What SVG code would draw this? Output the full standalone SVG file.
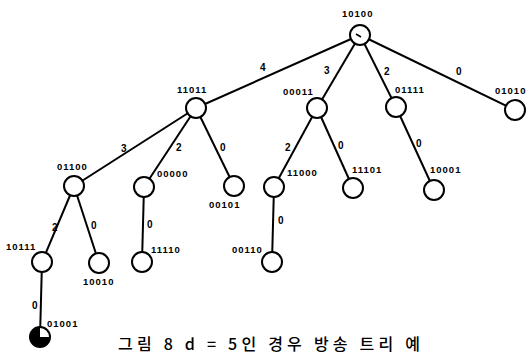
<svg xmlns="http://www.w3.org/2000/svg" width="526" height="354" viewBox="0 0 526 354">
<style>
.n{fill:#fff;stroke:#000;stroke-width:2}
.e{stroke:#000;stroke-width:2;fill:none}
.t{font-family:"Liberation Sans",Arial,sans-serif;font-size:9.5px;font-weight:bold;fill:#000;letter-spacing:1px}
.l{font-family:"Liberation Sans",Arial,sans-serif;font-size:10px;font-weight:bold;fill:#000}
.c{font-family:"Noto Sans CJK KR","Noto Sans",sans-serif;font-size:16px;font-weight:500;fill:#000}
</style>
<rect width="526" height="354" fill="#fff"/>
<g id="edges">
<line class="e" x1="360" y1="35" x2="196" y2="108"/>
<line class="e" x1="360" y1="35" x2="317" y2="108"/>
<line class="e" x1="360" y1="35" x2="396" y2="107"/>
<line class="e" x1="360" y1="35" x2="515" y2="110"/>
<line class="e" x1="196" y1="108" x2="74" y2="186"/>
<line class="e" x1="196" y1="108" x2="144" y2="187"/>
<line class="e" x1="196" y1="108" x2="234" y2="186"/>
<line class="e" x1="317" y1="108" x2="274" y2="187"/>
<line class="e" x1="317" y1="108" x2="353" y2="188"/>
<line class="e" x1="396" y1="107" x2="434" y2="190"/>
<line class="e" x1="74" y1="186" x2="42" y2="262"/>
<line class="e" x1="74" y1="186" x2="99" y2="263"/>
<line class="e" x1="144" y1="187" x2="142" y2="262"/>
<line class="e" x1="274" y1="187" x2="272" y2="262"/>
<line class="e" x1="42" y1="262" x2="40" y2="337"/>
<text class="l" x="260" y="71">4</text>
<text class="l" x="324" y="74">3</text>
<text class="l" x="384" y="75">2</text>
<text class="l" x="456" y="75">0</text>
<text class="l" x="121" y="152">3</text>
<text class="l" x="176" y="151">2</text>
<text class="l" x="220" y="151">0</text>
<text class="l" x="285" y="151">2</text>
<text class="l" x="338" y="149">0</text>
<text class="l" x="416" y="147">0</text>
<text class="l" x="52" y="231">2</text>
<text class="l" x="91" y="229">0</text>
<text class="l" x="147" y="228">0</text>
<text class="l" x="278" y="224">0</text>
<text class="l" x="32" y="309">0</text>
</g>
<g id="n10100"><circle class="n" cx="360" cy="35" r="10"/><path d="M356 34 l5 3" stroke="#000" stroke-width="1.5"/><text class="t" x="342" y="17">10100</text></g>
<g id="n11011"><circle class="n" cx="196" cy="108" r="10"/><text class="t" x="177" y="93">11011</text></g>
<g id="n00011"><circle class="n" cx="317" cy="108" r="10"/><text class="t" x="283" y="95">00011</text></g>
<g id="n01111"><circle class="n" cx="396" cy="107" r="10"/><text class="t" x="395" y="93">01111</text></g>
<g id="n01010"><circle class="n" cx="515" cy="110" r="10"/><text class="t" x="495" y="94">01010</text></g>
<g id="n01100"><circle class="n" cx="74" cy="186" r="10"/><text class="t" x="57" y="170">01100</text></g>
<g id="n00000"><circle class="n" cx="144" cy="187" r="10"/><text class="t" x="157" y="177">00000</text></g>
<g id="n00101"><circle class="n" cx="234" cy="186" r="10"/><text class="t" x="209" y="208">00101</text></g>
<g id="n11000"><circle class="n" cx="274" cy="187" r="10"/><text class="t" x="287" y="176">11000</text></g>
<g id="n11101"><circle class="n" cx="353" cy="188" r="10"/><text class="t" x="352" y="173">11101</text></g>
<g id="n10001"><circle class="n" cx="434" cy="190" r="10"/><text class="t" x="430" y="173">10001</text></g>
<g id="n10111"><circle class="n" cx="42" cy="262" r="10"/><text class="t" x="6" y="250">10111</text></g>
<g id="n10010"><circle class="n" cx="99" cy="263" r="10"/><text class="t" x="83" y="285">10010</text></g>
<g id="n11110"><circle class="n" cx="142" cy="262" r="10"/><text class="t" x="151" y="253">11110</text></g>
<g id="n00110"><circle class="n" cx="272" cy="262" r="10"/><text class="t" x="232" y="253">00110</text></g>
<g id="n01001"><circle class="n" cx="40" cy="337" r="10"/><path d="M40 327 A10 10 0 1 0 50 337 L40 337 Z" fill="#000"/><text class="t" x="47" y="327">01001</text></g>
<text class="c" x="118" y="350" textLength="302" lengthAdjust="spacing">그림 8 d = 5인 경우 방송 트리 예</text>
</svg>
